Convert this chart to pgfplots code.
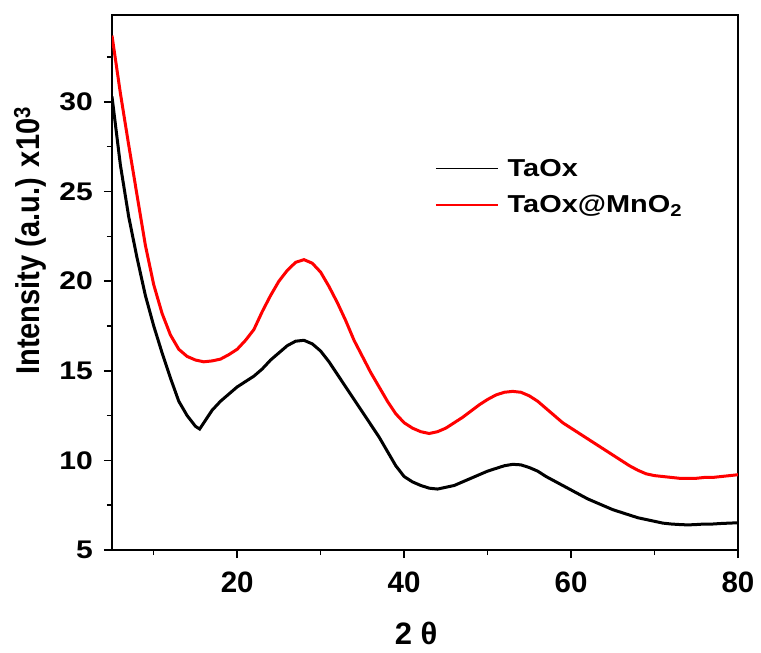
\documentclass[border=0pt]{standalone}
\usepackage{pgfplots}
\pgfplotsset{compat=1.18}
\usepackage{fontspec}
\setmainfont{Liberation Sans}
\newfontfamily\widefont[FakeStretch=1.18]{Liberation Sans}
\newfontfamily\narrowfont[FakeStretch=0.88]{Liberation Sans}
\begin{document}
\begin{tikzpicture}[x=1pt,y=1pt]
\begin{axis}[
  at={(0,0)}, anchor=south west,
  scale only axis, width=626pt, height=535pt,
  xmin=5, xmax=80, ymin=5, ymax=34.85,
  xtick={20,40,60,80}, minor xtick={10,30,50,70},
  ytick={5,10,15,20,25,30}, minor ytick={7.5,12.5,17.5,22.5,27.5,32.5},
  tick pos=left, tick align=outside,
  major tick length=8pt, minor tick length=5pt,
  every tick/.style={black, line width=1.5pt},
  axis line style={line width=1.6pt},
  /pgf/number format/assume math mode=true,
  xticklabel style={font=\fontsize{29.5}{32}\selectfont\bfseries, inner sep=0pt, yshift=-14pt},
  yticklabel style={font=\widefont\fontsize{25.5}{28}\selectfont\bfseries, inner sep=0pt, xshift=-11pt},
  xlabel={2 θ}, ylabel={Intensity (a.u.) x10\textsuperscript{3}},
  xlabel style={font=\fontsize{31}{34}\selectfont\bfseries, at={(axis description cs:0.486,-0.156)}, anchor=center},
  ylabel style={font=\narrowfont\fontsize{33}{35}\selectfont\bfseries, at={(axis description cs:-0.131,0.578)}, anchor=center},
  legend style={at={(0.516,0.735)}, anchor=north west, draw=none, fill=none,
    font=\widefont\fontsize{24.5}{27}\selectfont\bfseries, row sep=14pt, column sep=7pt, inner sep=0pt},
  legend cell align=left,
  legend image code/.code={\draw[#1, line width=1.5pt] (0pt,0pt) -- (62pt,0pt);},
]
\addplot[black, line width=3pt] coordinates {
(5,30.3)(6,26.5)(7,23.6)(8,21.3)(9,19.2)(10,17.5)(11,16.0)(12,14.6)(13,13.3)(14,12.5)(15,11.9)(15.5,11.75)(16,12.1)(17,12.8)(18,13.3)(19,13.7)(20,14.1)(21,14.4)(22,14.7)(23,15.1)(24,15.6)(25,16.0)(26,16.4)(27,16.65)(28,16.7)(29,16.5)(30,16.1)(31,15.5)(32,14.8)(33,14.1)(34,13.4)(35,12.7)(36,12.0)(37,11.3)(38,10.5)(39,9.7)(40,9.1)(41,8.8)(42,8.6)(43,8.45)(44,8.4)(45,8.5)(46,8.6)(47,8.8)(48,9.0)(49,9.2)(50,9.4)(51,9.55)(52,9.7)(53,9.78)(54,9.75)(55,9.6)(56,9.4)(57,9.1)(58,8.85)(59,8.6)(60,8.35)(61,8.1)(62,7.85)(63,7.65)(64,7.45)(65,7.25)(66,7.1)(67,6.95)(68,6.8)(69,6.7)(70,6.6)(71,6.5)(72,6.45)(73,6.42)(74,6.4)(75,6.42)(76,6.45)(77,6.45)(78,6.48)(79,6.5)(80,6.52)
};
\addlegendentry{TaOx}
\addplot[red, line width=3pt] coordinates {
(5,33.7)(6,30.5)(7,27.6)(8,24.8)(9,22.0)(10,19.8)(11,18.2)(12,17.0)(13,16.2)(14,15.8)(15,15.6)(16,15.5)(17,15.55)(18,15.65)(19,15.9)(20,16.2)(21,16.7)(22,17.3)(23,18.3)(24,19.2)(25,20.0)(26,20.6)(27,21.05)(28,21.2)(29,21.0)(30,20.5)(31,19.7)(32,18.8)(33,17.8)(34,16.7)(35,15.8)(36,14.9)(37,14.1)(38,13.3)(39,12.6)(40,12.1)(41,11.8)(42,11.6)(43,11.5)(44,11.6)(45,11.8)(46,12.1)(47,12.4)(48,12.75)(49,13.1)(50,13.4)(51,13.65)(52,13.8)(53,13.85)(54,13.8)(55,13.6)(56,13.3)(57,12.9)(58,12.5)(59,12.1)(60,11.8)(61,11.5)(62,11.2)(63,10.9)(64,10.6)(65,10.3)(66,10.0)(67,9.7)(68,9.45)(69,9.25)(70,9.15)(71,9.1)(72,9.05)(73,9.0)(74,9.0)(75,9.0)(76,9.05)(77,9.05)(78,9.1)(79,9.15)(80,9.2)
};
\addlegendentry{TaOx@MnO\textsubscript{2}}
\end{axis}
\pgfresetboundingbox
\path[use as bounding box] (-112pt,-103pt) rectangle (649pt,550pt);
\end{tikzpicture}
\end{document}
